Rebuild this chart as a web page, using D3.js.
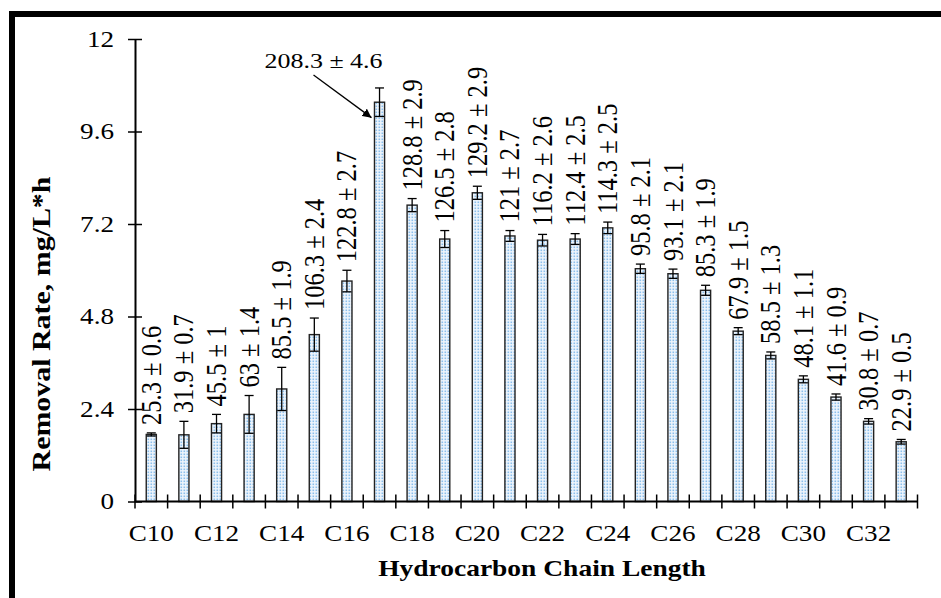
<!DOCTYPE html>
<html><head><meta charset="utf-8">
<script src="https://cdn.jsdelivr.net/npm/d3@7"></script>
<style>body{margin:0;background:#fff}svg{display:block;font-family:"Liberation Serif","Times New Roman",serif}</style>
</head><body>
<script>
const categories = ['C10','C11','C12','C13','C14','C15','C16','C17','C18','C19','C20','C21','C22','C23','C24','C25','C26','C27','C28','C29','C30','C31','C32','C33'];
const rates = [1.74,1.73,2.02,2.26,2.92,4.33,5.72,10.36,7.69,6.81,8.01,6.89,6.78,6.81,7.10,6.04,5.91,5.48,4.42,3.79,3.17,2.71,2.08,1.55];
const errors = [0.04,0.35,0.24,0.49,0.56,0.43,0.28,0.37,0.17,0.22,0.17,0.14,0.15,0.14,0.15,0.12,0.12,0.13,0.09,0.09,0.09,0.08,0.07,0.06];
const barLabels = ['25.3 ± 0.6','31.9 ± 0.7','45.5 ± 1','63 ± 1.4','85.5 ± 1.9','106.3 ± 2.4','122.8 ± 2.7','208.3 ± 4.6','128.8 ± 2.9','126.5 ± 2.8','129.2 ± 2.9','121 ± 2.7','116.2 ± 2.6','112.4 ± 2.5','114.3 ± 2.5','95.8 ± 2.1','93.1 ± 2.1','85.3 ± 1.9','67.9 ± 1.5','58.5 ± 1.3','48.1 ± 1.1','41.6 ± 0.9','30.8 ± 0.7','22.9 ± 0.5'];
const yTicks = [0,2.4,4.8,7.2,9.6,12];
const xTickLabels = ['C10','C12','C14','C16','C18','C20','C22','C24','C26','C28','C30','C32'];
const yTitle = 'Removal Rate, mg/L*h';
const xTitle = 'Hydrocarbon Chain Length';
const calloutIndex = 7;

const W = 941, H = 598;
const SX = 1.18; // horizontal stretch of the original figure's text
const FONT = '"Liberation Serif","Times New Roman",serif';
const svg = d3.select('body').append('svg').attr('width', W).attr('height', H);

const defs = svg.append('defs');
const pat = defs.append('pattern').attr('id','dots').attr('patternUnits','userSpaceOnUse')
  .attr('width',3).attr('height',3);
pat.append('rect').attr('width',3).attr('height',3).attr('fill','#eef5fc');
pat.append('rect').attr('x',0.5).attr('y',0.5).attr('width',1.6).attr('height',1.6).attr('fill','#8cc0ec');
defs.append('marker').attr('id','arrow').attr('viewBox','0 0 10 10').attr('refX',10).attr('refY',5)
  .attr('markerWidth',9).attr('markerHeight',9).attr('markerUnits','userSpaceOnUse').attr('orient','auto')
  .append('path').attr('d','M0,0 L10,5 L0,10 z').attr('fill','#000');

// frame
svg.append('rect').attr('x',9).attr('y',11).attr('width',W).attr('height',6).attr('fill','#000');
svg.append('rect').attr('x',9).attr('y',11).attr('width',6).attr('height',H).attr('fill','#000');

const pL = 135, pR = 917.5, pT = 39, pB = 501.5;
const x = d3.scaleBand().domain(categories).range([pL, pR]).padding(0);
const y = d3.scaleLinear().domain([0,12]).range([pB, pT]);
const bw = x.bandwidth()*0.31;

const data = categories.map((c,i)=>({c, v:rates[i], e:errors[i], label:barLabels[i], i}));

// bars
svg.append('g').selectAll('rect').data(data).join('rect')
  .attr('x', d=>x(d.c)+x.bandwidth()/2-bw/2).attr('width', bw)
  .attr('y', d=>y(d.v)).attr('height', d=>y(0)-y(d.v))
  .attr('fill','url(#dots)').attr('stroke','#222').attr('stroke-width',1.4);

// error bars
const eg = svg.append('g').attr('stroke','#000').attr('stroke-width',1.3);
data.forEach(d=>{
  const cx = x(d.c)+x.bandwidth()/2;
  eg.append('line').attr('x1',cx).attr('x2',cx).attr('y1',y(d.v+d.e)).attr('y2',y(d.v-d.e));
  eg.append('line').attr('x1',cx-4.5).attr('x2',cx+4.5).attr('y1',y(d.v+d.e)).attr('y2',y(d.v+d.e));
  eg.append('line').attr('x1',cx-4.5).attr('x2',cx+4.5).attr('y1',y(d.v-d.e)).attr('y2',y(d.v-d.e));
});

// y axis
const yAxis = d3.axisLeft(y).tickValues(yTicks).tickSizeInner(7).tickSizeOuter(0).tickPadding(8)
  .tickFormat(d=>d3.format('~g')(d));
const yg = svg.append('g').attr('transform',`translate(${pL},0)`).call(yAxis);
yg.select('.domain').attr('stroke','#000').attr('stroke-width',2);
yg.selectAll('.tick line').attr('x1',-7).attr('x2',7).attr('stroke','#000').attr('stroke-width',1.5);
yg.selectAll('.tick text').attr('font-family',FONT).attr('font-size',23).attr('fill','#000')
  .attr('x',0).attr('transform',`translate(-21,0) scale(${SX},1)`);

// x axis: ticks at band boundaries
const xg = svg.append('g').attr('transform',`translate(0,${pB})`);
xg.append('line').attr('x1',pL).attr('x2',pR).attr('stroke','#000').attr('stroke-width',2);
const bounds = categories.map(c=>x(c)).concat([pR]);
xg.selectAll('line.tk').data(bounds).join('line').attr('class','tk')
  .attr('x1',d=>d).attr('x2',d=>d).attr('y1',-7).attr('y2',7).attr('stroke','#000').attr('stroke-width',1.5);
xg.selectAll('text').data(xTickLabels).join('text')
  .attr('transform',d=>`translate(${x(d)+x.bandwidth()/2},39) scale(${SX},1)`).attr('text-anchor','middle')
  .attr('font-family',FONT).attr('font-size',23).attr('fill','#000').text(d=>d);

// bar labels
svg.append('g').selectAll('text').data(data.filter(d=>d.i!==calloutIndex)).join('text')
  .attr('transform', d=>`translate(${x(d.c)+x.bandwidth()/2},${y(d.v+d.e)-8}) scale(${SX},1) rotate(-90)`)
  .attr('dy','0.33em').attr('text-anchor','start')
  .attr('font-family',FONT).attr('font-size',24.5).attr('fill','#000').text(d=>d.label);

// callout for the peak
const cd = data[calloutIndex];
const ccx = x(cd.c)+x.bandwidth()/2;
svg.append('text').attr('transform',`translate(${ccx-56},${pT+29}) scale(${SX},1)`).attr('text-anchor','middle')
  .attr('font-family',FONT).attr('font-size',22).attr('fill','#000').text(cd.label);
svg.append('line').attr('x1', ccx-66).attr('y1', pT+36).attr('x2', ccx-bw/2-3).attr('y2', y(cd.v-0.4))
  .attr('stroke','#000').attr('stroke-width',1.3).attr('marker-end','url(#arrow)');

// titles
svg.append('text').attr('transform',`translate(50,324) scale(${SX},1) rotate(-90) scale(1.36,1)`).attr('text-anchor','middle')
  .attr('font-family',FONT).attr('font-size',22).attr('font-weight','bold').attr('fill','#000').text(yTitle);
svg.append('text').attr('transform',`translate(542,576) scale(${SX},1)`).attr('text-anchor','middle')
  .attr('font-family',FONT).attr('font-size',23.3).attr('font-weight','bold').attr('fill','#000').text(xTitle);
</script>
</body></html>
